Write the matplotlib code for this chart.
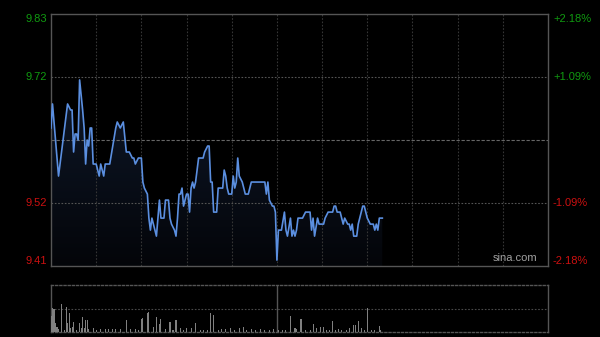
import numpy as np
import matplotlib
matplotlib.use('Agg')
from matplotlib import pyplot as plt
from matplotlib.patches import Polygon

plt.rcParams['font.family'] = ['Liberation Sans', 'DejaVu Sans']

# intraday data (HK session: 330 trading minutes, lunch break after minute 150)
prev_close = 9.62
max_pct = 2.18

minutes = [0, 1, 3, 5, 9, 11, 13, 14, 15, 16, 17, 18, 19, 21, 22, 23, 24, 25, 26, 27,
           28, 30, 32, 33, 35, 36, 39, 41, 43, 44, 46, 48, 50, 52, 54, 55, 56, 58, 60, 61,
           62, 64, 65, 66, 67, 68, 70, 72, 73, 75, 76, 78, 79, 80, 82, 83, 84, 85, 86, 87,
           88, 90, 91, 92, 93, 94, 95, 96, 98, 101, 102, 104, 105, 106, 107, 108, 110, 111, 114, 115,
           116, 117, 118, 120, 121, 122, 123, 124, 125, 127, 128, 129, 131, 133, 142, 143, 144, 145, 147, 148,
           149, 150, 151, 153, 155, 156, 157, 159, 160, 161, 162, 163, 164, 167, 169, 172, 173, 174, 175, 177,
           178, 181, 182, 184, 187, 188, 189, 190, 192, 194, 195, 197, 198, 199, 200, 201, 203, 204, 206, 207,
           208, 210, 212, 214, 215, 216, 217, 218, 220]
prices = [9.64, 9.68, 9.62, 9.56, 9.64, 9.68, 9.67, 9.67, 9.60, 9.63, 9.63, 9.62, 9.72, 9.67, 9.64, 9.58, 9.62, 9.61, 9.64, 9.64,
          9.58, 9.58, 9.56, 9.58, 9.56, 9.58, 9.58, 9.61, 9.64, 9.65, 9.64, 9.65, 9.60, 9.60, 9.59, 9.59, 9.58, 9.59, 9.59, 9.55,
          9.54, 9.53, 9.49, 9.47, 9.49, 9.48, 9.46, 9.52, 9.49, 9.49, 9.52, 9.52, 9.49, 9.48, 9.47, 9.46, 9.49, 9.53, 9.53, 9.54,
          9.51, 9.53, 9.53, 9.50, 9.54, 9.55, 9.54, 9.55, 9.59, 9.59, 9.60, 9.61, 9.61, 9.55, 9.55, 9.50, 9.50, 9.54, 9.54, 9.57,
          9.56, 9.54, 9.53, 9.53, 9.56, 9.54, 9.55, 9.59, 9.56, 9.55, 9.54, 9.53, 9.53, 9.55, 9.55, 9.53, 9.55, 9.52, 9.51, 9.51,
          9.50, 9.42, 9.47, 9.47, 9.50, 9.47, 9.46, 9.49, 9.46, 9.47, 9.46, 9.47, 9.49, 9.49, 9.50, 9.50, 9.47, 9.49, 9.46, 9.49,
          9.48, 9.48, 9.49, 9.50, 9.50, 9.51, 9.51, 9.50, 9.50, 9.48, 9.49, 9.48, 9.48, 9.47, 9.48, 9.46, 9.46, 9.48, 9.50, 9.51,
          9.51, 9.49, 9.48, 9.48, 9.47, 9.48, 9.47, 9.49, 9.49]

vol_minutes = [0, 1, 2, 3, 4, 5, 7, 9, 10, 11, 12, 13, 14, 15, 17, 19, 20, 21, 22, 23,
               24, 25, 28, 30, 33, 36, 38, 41, 43, 46, 50, 53, 56, 58, 60, 61, 64, 65, 68, 70,
               72, 73, 76, 79, 81, 83, 86, 88, 90, 93, 96, 99, 101, 104, 106, 108, 111, 113, 116, 119,
               122, 125, 128, 130, 133, 136, 139, 142, 145, 148, 151, 154, 156, 159, 162, 163, 166, 169, 172, 174,
               176, 179, 181, 183, 185, 187, 189, 191, 193, 196, 198, 201, 202, 204, 206, 208, 210, 213, 215, 218, 219]
volumes = [16, 24, 23, 9, 5, 3, 28, 2, 25, 9, 19, 4, 5, 10, 2, 9, 4, 15, 4, 12,
           12, 3, 4, 2, 3, 3, 3, 3, 3, 3, 12, 3, 3, 2, 13, 14, 19, 20, 5, 15,
           8, 13, 3, 10, 2, 12, 4, 2, 4, 4, 9, 2, 2, 2, 19, 17, 2, 3, 3, 4,
           2, 4, 5, 2, 3, 2, 3, 2, 2, 3, 2, 2, 2, 16, 4, 3, 13, 2, 2, 8,
           4, 5, 5, 2, 2, 11, 2, 3, 2, 2, 4, 7, 7, 11, 4, 2, 24, 2, 2, 6, 2]

total_min = 330
lunch = 150

fig = plt.figure(figsize=(6, 3.37), dpi=100, facecolor='black')
ax = fig.add_axes([51 / 600, 71 / 337, 497 / 600, 252 / 337], facecolor='black')
axv = fig.add_axes([51 / 600, 5 / 337, 497 / 600, 47 / 337], facecolor='black')

top = prev_close * (1 + max_pct / 100)
bot = prev_close * (1 - max_pct / 100)
ax.set_xlim(0, total_min)
ax.set_ylim(bot, top)

# gradient fill below price line
grad = np.linspace(1, 0, 256).reshape(-1, 1)
c_top = np.array([0.07, 0.12, 0.21])
c_bot = np.array([0.015, 0.02, 0.035])
img = c_bot + grad[:, :, None] * (c_top - c_bot)
im = ax.imshow(img, extent=[0, total_min, bot, top], aspect='auto', origin='upper', zorder=1)
poly = Polygon(list(zip(minutes, prices)) + [(minutes[-1], bot), (minutes[0], bot)],
               closed=True, transform=ax.transData, facecolor='none', edgecolor='none')
ax.add_patch(poly)
im.set_clip_path(poly)

ax.plot(minutes, prices, color='#5b8fe0', lw=1.2, zorder=3)

# grid
for i in range(1, 11):
    ax.axvline(i * 30, color='#353535', lw=0.8, ls=(0, (1.5, 1.5)), zorder=2)
mid_hi = prev_close * (1 + max_pct / 200)
mid_lo = prev_close * (1 - max_pct / 200)
for lv in (mid_hi, mid_lo):
    ax.axhline(lv, color='#555555', lw=0.8, ls=(0, (1.5, 1.5)), zorder=2)
ax.axhline(prev_close, color='#666666', lw=0.8, ls=(0, (3, 1.5)), zorder=2)

ax.set_xticks([])
ax.set_yticks([])
for s in ax.spines.values():
    s.set_color('#555555')
    s.set_linewidth(1)

# price and percent labels
green = '#109a10'
red = '#cc1010'
levels = [top, mid_hi, mid_lo, bot]
pcts = [max_pct, max_pct / 2, -max_pct / 2, -max_pct]
vas = ['top', 'center', 'center', 'bottom']
cols = [green, green, red, red]
for lv, p, va, c in zip(levels, pcts, vas, cols):
    ax.text(-0.008, lv, '%.2f' % lv, transform=ax.get_yaxis_transform(), ha='right', va=va,
            color=c, fontsize=8)
    ax.text(1.01, lv, '%+.2f%%' % p, transform=ax.get_yaxis_transform(), ha='left', va=va,
            color=c, fontsize=8)
ax.text(0.978, 0.012, 'sina.com', transform=ax.transAxes, ha='right', va='bottom',
        color='#a0a0a0', fontsize=8)

# volume panel
axv.set_xlim(0, total_min)
axv.set_ylim(0, 47)
axv.bar(vol_minutes, volumes, width=0.7, color='#808080', zorder=3)
axv.axhline(23.5, color='#4a4a4a', lw=0.8, ls=(0, (1.5, 1.5)), zorder=1)
axv.axvline(lunch, color='#555555', lw=1, zorder=2)
axv.set_xticks([])
axv.set_yticks([])
for k, s in axv.spines.items():
    s.set_color('#555555')
    s.set_linewidth(1)
    if k in ('top', 'bottom'):
        s.set_linestyle((0, (1.5, 1.5)))

fig.savefig('out.png', dpi=100, facecolor='black')
